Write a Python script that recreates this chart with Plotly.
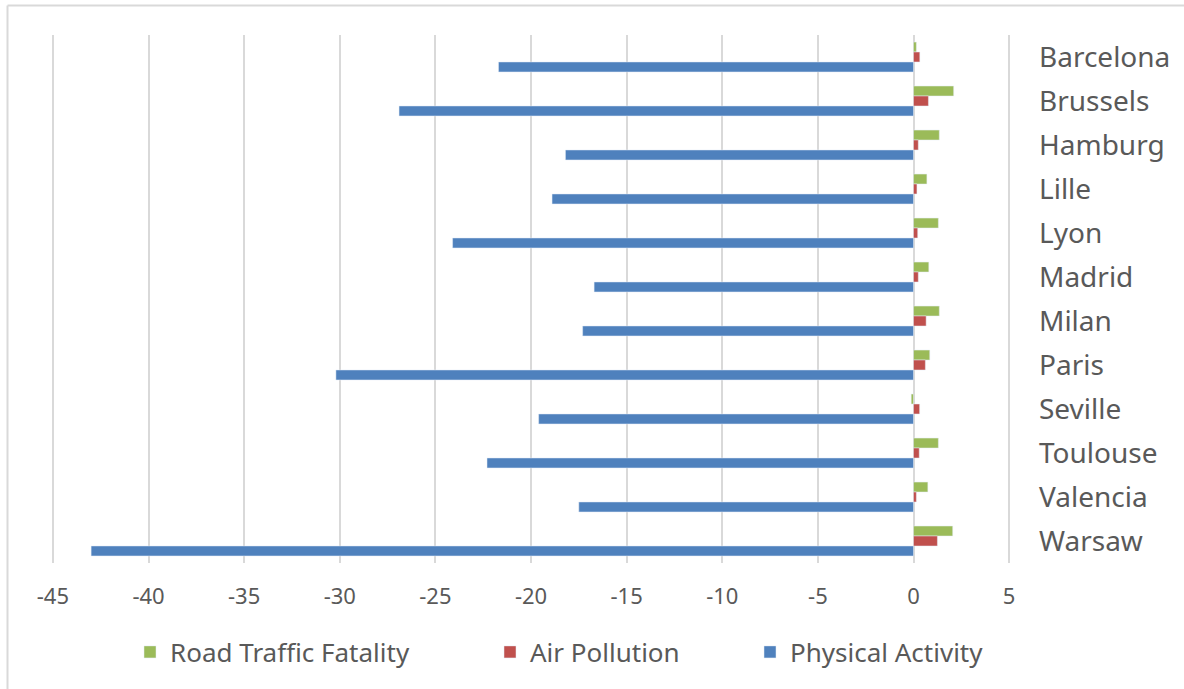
import plotly.graph_objects as go

cities = ["Barcelona", "Brussels", "Hamburg", "Lille", "Lyon", "Madrid",
          "Milan", "Paris", "Seville", "Toulouse", "Valencia", "Warsaw"]
road_traffic = [0.15, 2.1, 1.35, 0.7, 1.3, 0.8, 1.35, 0.85, -0.12, 1.3, 0.75, 2.05]
air_pollution = [0.33, 0.78, 0.25, 0.18, 0.22, 0.25, 0.66, 0.62, 0.32, 0.3, 0.15, 1.25]
physical_activity = [-21.7, -26.9, -18.2, -18.9, -24.1, -16.7, -17.3, -30.2,
                     -19.6, -22.3, -17.5, -43.0]
x_ticks = [-45, -40, -35, -30, -25, -20, -15, -10, -5, 0, 5]

FONT = "Noto Sans"
TXT = "#595959"
GRID = "#d9d9d9"

L, R, T, B = 50, 172, 35, 126
W, H = 1184, 689
pw, ph = W - L - R, H - T - B

def px2x(px):
    return (px - L) / pw

def px2y(py):
    return (H - B - py) / ph

fig = go.Figure()
fig.add_trace(go.Bar(y=cities, x=road_traffic, orientation="h", name="Road Traffic Fatality",
                     marker_color="#9BBB59", legend="legend", showlegend=True))
fig.add_trace(go.Bar(y=cities, x=air_pollution, orientation="h", name="Air Pollution",
                     marker_color="#C0504D", legend="legend2", showlegend=True))
fig.add_trace(go.Bar(y=cities, x=physical_activity, orientation="h", name="Physical Activity",
                     marker_color="#4F81BD", legend="legend3", showlegend=True))

leg_common = dict(orientation="h", yanchor="middle", xanchor="left",
                  font=dict(family=FONT, size=26, color=TXT), bgcolor="rgba(0,0,0,0)")
fig.update_layout(
    width=W, height=H,
    margin=dict(l=L, r=R, t=T, b=B),
    paper_bgcolor="white", plot_bgcolor="white",
    barmode="group", bargap=0.32, bargroupgap=0,
    font=dict(family=FONT, color=TXT),
    showlegend=True,
    legend=dict(x=px2x(130), y=px2y(652), **leg_common),
    legend2=dict(x=px2x(490), y=px2y(652), **leg_common),
    legend3=dict(x=px2x(750), y=px2y(652), **leg_common),
    xaxis=dict(range=[-45.15, 5.15], tickvals=x_ticks, ticktext=[str(v) for v in x_ticks],
               showgrid=True, gridcolor=GRID, gridwidth=2,
               zeroline=True, zerolinecolor=GRID, zerolinewidth=2,
               showline=False, ticks="", ticklabelstandoff=18,
               tickfont=dict(family=FONT, size=22, color=TXT)),
    yaxis=dict(autorange="reversed", side="right", showgrid=False, showline=False,
               ticks="", ticklabelstandoff=26, zeroline=False,
               tickfont=dict(family=FONT, size=28, color=TXT)),
    shapes=[
        dict(type="line", xref="paper", yref="paper", x0=px2x(7.5), x1=px2x(7.5),
             y0=px2y(5.5), y1=px2y(700), line=dict(color=GRID, width=2)),
        dict(type="line", xref="paper", yref="paper", x0=px2x(7.5), x1=px2x(1200),
             y0=px2y(5.5), y1=px2y(5.5), line=dict(color=GRID, width=2)),
    ],
)

fig.write_html("out.html", config={"displayModeBar": False},
               post_script="document.body.style.margin='0';document.body.style.overflow='hidden';")
